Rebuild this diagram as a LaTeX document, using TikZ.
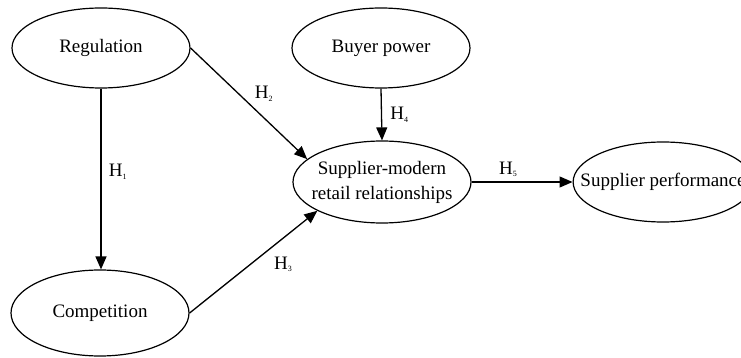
\documentclass[tikz,border=0pt]{standalone}
\usepackage{fontspec}
\setmainfont{Liberation Serif}
\usetikzlibrary{shapes.geometric,arrows.meta}
\newcommand{\hlab}[1]{H\raisebox{-0.3ex}{\fontsize{8}{8}\selectfont #1}}
\tikzset{construct/.style={draw, ellipse, line width=1.2pt, minimum width=178pt, minimum height=80pt, inner sep=0pt, align=center}}
\begin{document}
\begin{tikzpicture}[x=1pt,y=-1pt,>={Triangle[length=13pt,width=11pt]}, line width=1.3pt, font=\fontsize{19}{25}\selectfont]
	\useasboundingbox (0,0) rectangle (741,358);
	% constructs
	\node[construct] (reg) at (101,48) {Regulation};
	\node[construct] (buy) at (381,48) {Buyer power};
	\node[construct, minimum height=82pt, inner xsep=-8pt] (sup) at (382,182) {Supplier-modern\\retail relationships};
	\node[construct, inner xsep=-19pt] (perf) at (663,182) {Supplier performance};
	\node[construct, minimum height=86pt] (comp) at (100,313) {Competition};
	% hypotheses
	\draw[->] (reg.south) -- (reg.south |- comp.north) node[pos=0.46, right=4pt] (h1) {\hlab{1}};
	\draw[->] (reg.east) -- (sup.163) node[pos=0.5, anchor=south west, yshift=-2pt, xshift=2pt] (h2) {\hlab{2}};
	\draw[->] (comp.east) -- (sup.204) node[pos=0.6, anchor=north west, xshift=4pt, yshift=-1pt] (h3) {\hlab{3}};
	\draw[->] (buy.south) -- (sup.north) node[midway, right=5pt] (h4) {\hlab{4}};
	\draw[->] (sup.east) -- (sup.east -| perf.west) node[pos=0.36, above=1pt] (h5) {\hlab{5}};
\end{tikzpicture}
\end{document}
